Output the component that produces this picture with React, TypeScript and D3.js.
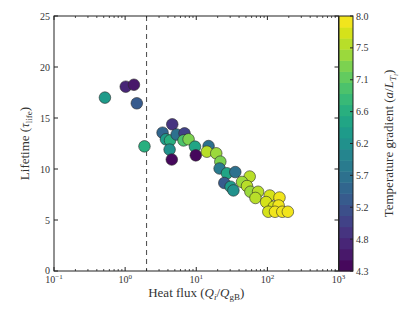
import React from "react";
import * as d3 from "d3";

// heat flux (Q_i/Q_gB), lifetime, temperature gradient a/L_Ti
const heatFlux = [0.52, 1.02, 1.33, 1.46, 1.87, 4.6, 3.36, 3.75, 4.28, 4.22, 4.53, 5.3, 6.84, 6.62, 7.8, 9.6, 9.85, 14.9, 14.1, 19.1, 21.8, 21.3, 27, 35.4, 24.8, 30.4, 33.3, 56.4, 44, 51.7, 57.7, 74, 68, 108, 148, 96, 123, 144, 103, 128, 162, 194];
const lifetime = [17.0, 18.07, 18.26, 16.44, 12.22, 14.38, 13.56, 12.91, 12.8, 11.9, 10.93, 13.38, 13.5, 12.8, 12.91, 12.19, 11.34, 12.25, 11.7, 11.54, 10.72, 10.05, 9.58, 9.7, 8.63, 8.26, 7.9, 9.26, 8.73, 8.33, 7.77, 7.77, 7.16, 7.4, 7.2, 6.76, 6.3, 6.42, 5.81, 5.81, 5.81, 5.81];
const gradient = [6.3, 4.7, 4.5, 5.4, 6.6, 4.9, 5.5, 6.3, 6.7, 6.2, 4.3, 5.6, 5.0, 7.0, 7.2, 6.4, 4.4, 5.6, 7.6, 7.5, 7.2, 5.9, 6.4, 5.6, 5.3, 6.3, 6.2, 7.6, 7.5, 7.6, 7.5, 7.6, 7.6, 7.7, 7.9, 7.7, 7.8, 7.9, 7.7, 7.9, 8.0, 7.9];

const yTicks = [0, 5, 10, 15, 20, 25];
const xDecades = [-1, 0, 1, 2, 3];
const cbTicks = ["4.3", "4.8", "5.2", "5.7", "6.2", "6.6", "7.1", "7.5", "8.0"];
const threshold = 2;

const W = 415, H = 312;
const left = 54, right = 338.5, top = 16, bottom = 271;
const cbX = 339, cbW = 14;
const nBands = 23;
const font = "'Liberation Serif', 'DejaVu Serif', serif";

export default function App() {
  const x = d3.scaleLog().domain([0.1, 1000]).range([left, right]);
  const y = d3.scaleLinear().domain([0, 25]).range([bottom, top]);
  const cmin = 4.3, cmax = 8.0;
  const band = (v: number) => {
    const t = (v - cmin) / (cmax - cmin);
    const i = Math.min(nBands - 1, Math.max(0, Math.floor(t * nBands)));
    return d3.interpolateViridis((i + 0.5) / nBands);
  };
  const cy = d3.scaleLinear().domain([cmin, cmax]).range([bottom, top]);

  const minor: number[] = [];
  for (const e of [-1, 0, 1, 2]) for (let k = 2; k <= 9; k++) minor.push(k * Math.pow(10, e));

  const pts = heatFlux.map((q, i) => ({ q, t: lifetime[i], g: gradient[i] }));
  const axisColor = "#222";
  const bands = d3.range(nBands);

  return (
    <svg width={W} height={H} style={{ position: "absolute", left: 0, top: 0 }}>
      <rect width={W} height={H} fill="#fff" />
      {/* threshold line */}
      <line x1={x(threshold)} x2={x(threshold)} y1={top} y2={bottom} stroke="#555" strokeWidth={1.1} strokeDasharray="5,4" />
      {/* points */}
      {pts.map((p, i) => (
        <circle key={i} cx={x(p.q)} cy={y(p.t)} r={5.8} fill={band(p.g)} stroke="#2a2a2a" strokeWidth={0.6} />
      ))}
      {/* frame */}
      <rect x={left} y={top} width={right - left} height={bottom - top} fill="none" stroke={axisColor} strokeWidth={1} />
      {/* y ticks */}
      {yTicks.map(v => (
        <g key={v}>
          <line x1={left} x2={left + 4} y1={y(v)} y2={y(v)} stroke={axisColor} />
          <line x1={right - 4} x2={right} y1={y(v)} y2={y(v)} stroke={axisColor} />
          <text x={left - 4} y={y(v) - (v === 0 ? 1 : 0)} dy="0.35em" textAnchor="end" fontFamily={font} fontSize={10} fill="#333">{v}</text>
        </g>
      ))}
      {/* x ticks */}
      {xDecades.map(e => {
        const px = x(Math.pow(10, e));
        return (
          <g key={e}>
            <line x1={px} x2={px} y1={bottom} y2={bottom - 4} stroke={axisColor} />
            <line x1={px} x2={px} y1={top} y2={top + 4} stroke={axisColor} />
            <text x={px} y={bottom + 12} textAnchor="middle" fontFamily={font} fontSize={10} fill="#333">
              10<tspan dy={-4} fontSize={7}>{e < 0 ? "\u2212" + Math.abs(e) : e}</tspan>
            </text>
          </g>
        );
      })}
      {minor.map((v, i) => (
        <g key={"m" + i}>
          <line x1={x(v)} x2={x(v)} y1={bottom} y2={bottom - 2} stroke={axisColor} strokeWidth={0.8} />
          <line x1={x(v)} x2={x(v)} y1={top} y2={top + 2} stroke={axisColor} strokeWidth={0.8} />
        </g>
      ))}
      {/* axis labels */}
      <text x={(left + right) / 2} y={297} textAnchor="middle" fontFamily={font} fontSize={13} fill="#333">
        Heat flux (<tspan fontStyle="italic">Q</tspan><tspan fontStyle="italic" fontSize={9} dy={3}>i</tspan><tspan dy={-3}>/</tspan><tspan fontStyle="italic">Q</tspan><tspan fontSize={9} dy={3}>gB</tspan><tspan dy={-3}>)</tspan>
      </text>
      <text transform={`translate(29,${(top + bottom) / 2}) rotate(-90)`} textAnchor="middle" fontFamily={font} fontSize={13} fill="#333">
        Lifetime (<tspan fontStyle="italic">τ</tspan><tspan fontSize={9} dy={3}>life</tspan><tspan dy={-3}>)</tspan>
      </text>
      {/* colorbar */}
      {bands.map(i => {
        const v0 = cmin + (i / nBands) * (cmax - cmin);
        const v1 = cmin + ((i + 1) / nBands) * (cmax - cmin);
        return <rect key={i} x={cbX} y={cy(v1)} width={cbW} height={cy(v0) - cy(v1) + 0.5} fill={d3.interpolateViridis((i + 0.5) / nBands)} />;
      })}
      <rect x={cbX} y={top} width={cbW} height={bottom - top} fill="none" stroke={axisColor} strokeWidth={1} />
      {cbTicks.map((lab, i) => {
        const py = top + (bottom - top) * (1 - i / (cbTicks.length - 1));
        return (
          <g key={lab}>
            <line x1={cbX + cbW - 3} x2={cbX + cbW} y1={py} y2={py} stroke={axisColor} />
            <text x={cbX + cbW + 3} y={py} dy="0.35em" fontFamily={font} fontSize={10} fill="#333">{lab}</text>
          </g>
        );
      })}
      <text transform={`translate(393,${(top + bottom) / 2}) rotate(-90)`} textAnchor="middle" fontFamily={font} fontSize={13} fill="#333">
        Temperature gradient (<tspan fontStyle="italic">a</tspan>/<tspan fontStyle="italic">L</tspan><tspan fontStyle="italic" fontSize={9} dy={3}>T</tspan><tspan fontStyle="italic" fontSize={7} dy={2}>i</tspan><tspan dy={-5}>)</tspan>
      </text>
    </svg>
  );
}
